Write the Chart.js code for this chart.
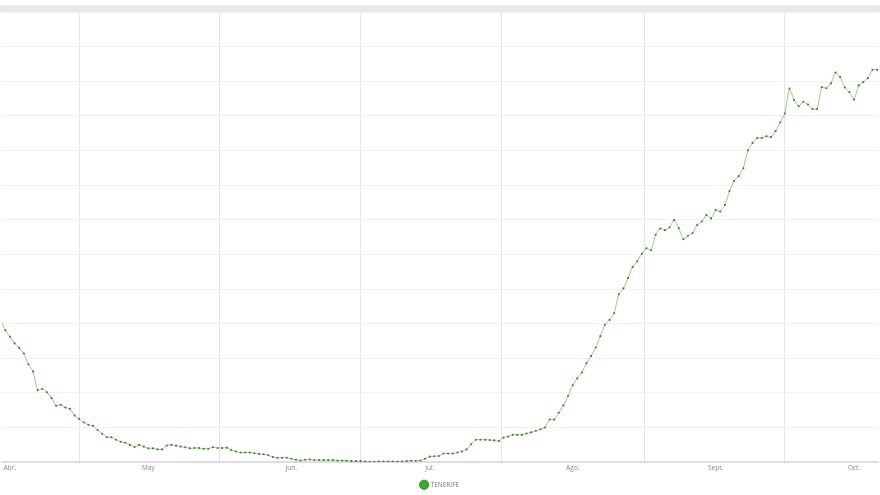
<!DOCTYPE html>
<html>
<head>
<meta charset="utf-8">
<script src="https://cdn.jsdelivr.net/npm/chart.js@4"></script>
<style>
  html, body { margin: 0; padding: 0; background: #fff; overflow: hidden; }
  #wrap { position: relative; width: 880px; height: 495px; overflow: hidden; }
  #band { position: absolute; left: 0; top: 5px; width: 880px; height: 7px; background: #e8e8e8; border-top: 1px solid #f1f1f1; box-sizing: border-box; }
  canvas { position: absolute; left: 0; top: 3px; }
</style>
</head>
<body>
<div id="wrap">
  <canvas id="c" width="880" height="495"></canvas>
  <div id="band"></div>
</div>
<script>
// Month tick labels and the day index (from 1 April) where each month starts
const monthLabels = ['Abr.', 'May', 'Jun.', 'Jul.', 'Ago.', 'Sept.', 'Oct.'];
const monthStartDays = [0, 30, 61, 91, 122, 153, 183];
// Series: TENERIFE, daily values starting 30 March (day -2)
const seriesName = 'TENERIFE';
const firstDay = -2;
const tenerife = [
  410, 381, 362, 343, 330, 314, 283, 262, 208, 212,
  202, 185, 163, 166, 158, 154, 135, 125, 115, 108,
  105, 93, 82, 72, 72, 65, 59, 56, 50, 44,
  50, 45, 40, 40, 37, 37, 48, 50, 48, 45,
  43, 40, 41, 41, 39, 39, 43, 41, 41, 42,
  35, 31, 28, 28, 28, 26, 24, 23, 20, 15,
  13, 13, 13, 10, 7, 5, 7, 8, 6, 6,
  6, 6, 6, 5, 5, 4, 3, 3, 3, 2,
  1, 1, 2, 2, 2, 2, 2, 2, 3, 4,
  4, 5, 10, 16, 17, 18, 25, 25, 25, 28,
  31, 37, 52, 65, 65, 65, 64, 63, 61, 71,
  74, 79, 79, 79, 83, 86, 91, 95, 100, 123,
  123, 143, 164, 191, 222, 242, 259, 286, 307, 331,
  364, 397, 411, 431, 485, 502, 532, 564, 580, 602,
  618, 612, 657, 675, 670, 678, 699, 676, 644, 654,
  662, 685, 695, 714, 704, 729, 724, 743, 783, 812,
  826, 849, 901, 922, 936, 936, 941, 939, 956, 981,
  1007, 1079, 1046, 1028, 1041, 1033, 1020, 1020, 1083, 1080,
  1094, 1125, 1112, 1082, 1069, 1047, 1088, 1098, 1109, 1133,
  1133, 1136
];

const points = tenerife.map((v, i) => ({ x: firstDay + i, y: v }));
const midMonthDays = monthStartDays.slice(0, -1).map((d, i) => (d + monthStartDays[i + 1]) / 2);

new Chart(document.getElementById('c'), {
  type: 'line',
  data: {
    datasets: [{
      label: seriesName,
      data: points,
      borderColor: '#8fd07a',
      borderWidth: 1,
      backgroundColor: '#3aab2a',
      pointRadius: 1.05,
      pointBackgroundColor: '#50704a',
      pointBorderWidth: 0,
      pointHoverRadius: 2,
      tension: 0.15,
      fill: false
    }]
  },
  options: {
    responsive: false,
    animation: false,
    layout: { padding: { top: 9, left: 0, right: 0, bottom: 0 } },
    plugins: {
      tooltip: { enabled: false },
      legend: {
        position: 'bottom',
        labels: {
          usePointStyle: true,
          font: { size: 6.5, family: 'Open Sans' },
          color: '#777',
          padding: 3,
          generateLabels: () => [{
            text: seriesName,
            fillStyle: '#3aab2a',
            strokeStyle: '#2e8c22',
            lineWidth: 1,
            pointStyle: 'circle',
            fontColor: '#777',
            datasetIndex: 0,
            hidden: false
          }]
        }
      }
    },
    scales: {
      x: {
        type: 'linear',
        min: -1.73,
        max: 188.2,
        afterBuildTicks: (scale) => {
          const vals = monthStartDays.concat(midMonthDays).sort((a, b) => a - b);
          scale.ticks = vals.map(v => ({ value: v }));
        },
        afterFit: (scale) => { scale.height += 6.5; },
        ticks: {
          autoSkip: false,
          maxRotation: 0,
          padding: 0,
          font: { size: 6.5, family: 'Open Sans' },
          color: '#888',
          callback: (value) => {
            const i = monthStartDays.indexOf(value);
            return i >= 0 ? monthLabels[i] : '';
          }
        },
        grid: {
          color: (ctx) => (ctx.tick && monthStartDays.indexOf(ctx.tick.value) >= 0) ? 'rgba(0,0,0,0)' : '#e6e6e6',
          lineWidth: 1,
          tickLength: 2
        },
        border: { display: true, color: '#dedede', width: 2 }
      },
      y: {
        min: 0,
        max: 1300,
        afterFit: (scale) => { scale.width = 0; },
        ticks: { display: false, stepSize: 100 },
        grid: { color: '#f1f1f1', lineWidth: 1, drawTicks: false },
        border: { display: false }
      }
    }
  }
});
</script>
</body>
</html>
